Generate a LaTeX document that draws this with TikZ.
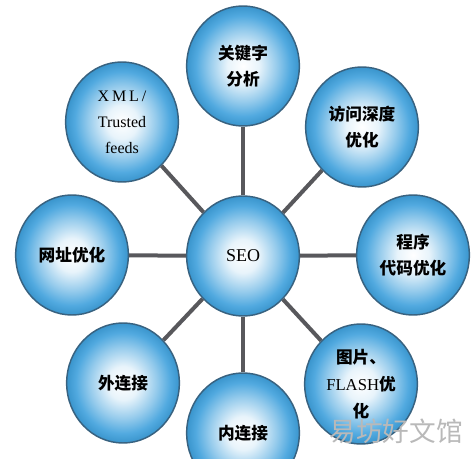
\documentclass[tikz,border=0pt]{standalone}
\usepackage{fontspec}
\setmainfont{Liberation Serif}
\newfontfamily\cjk{Noto Sans CJK SC}
\usepackage{tikz}
\usetikzlibrary{shapes.geometric}

\definecolor{ballblue}{RGB}{62,160,220}
\definecolor{rimblue}{RGB}{56,98,128}
\definecolor{linkgray}{RGB}{88,88,92}
\pgfdeclareradialshading{bubbleshade}{\pgfpoint{0bp}{0bp}}{%
  color(0bp)=(white); color(7bp)=(white!88!ballblue);
  color(15bp)=(ballblue!55!white); color(21bp)=(ballblue!90!white);
  color(25bp)=(ballblue!93!black); color(50bp)=(ballblue!93!black)}

\begin{document}
\begin{tikzpicture}[x=0.75pt,y=-0.75pt,
    bubble/.style={ellipse, draw=rimblue, line width=1.1pt, shading=bubbleshade,
      minimum width=84.5pt, minimum height=90pt, inner sep=0pt, align=center,
      font=\cjk\bfseries\fontsize{12.5}{20}\selectfont},
    latin/.style={font=\rmfamily\mdseries\fontsize{12}{19.5}\selectfont},
    link/.style={draw=linkgray, line width=3pt}]
  \useasboundingbox (0,0) rectangle (474,459);

  % Define nodes
  \node[bubble] (seo)   at (243,256) {\rmfamily\mdseries\fontsize{13.5}{16}\selectfont SEO};
  \node[bubble] (key)   at (243,66)  {关键字\\分析};
  \node[bubble, latin] (xml) at (122,122) {\addfontfeatures{LetterSpace=18}XML/\\Trusted\\feeds};
  \node[bubble] (visit) at (362,127) {访问深度\\优化};
  \node[bubble] (url)   at (72,255)  {网址优化};
  \node[bubble] (code)  at (413,255) {程序\\代码优化};
  \node[bubble] (outer) at (123,383) {外连接};
  \node[bubble] (inner) at (243,433) {内连接};
  \node[bubble] (pic)   at (361,384) {图片、\\{\rmfamily\mdseries FLASH}优\\化};

  % Edges
  \foreach \leaf in {key,xml,visit,url,code,outer,inner,pic}
    \draw[link] (seo) -- (\leaf);

  \node[text=gray!55, font=\cjk\fontsize{20}{20}\selectfont, inner sep=0pt] (mark) at (396,431) {易坊好文馆};

\end{tikzpicture}
\end{document}
